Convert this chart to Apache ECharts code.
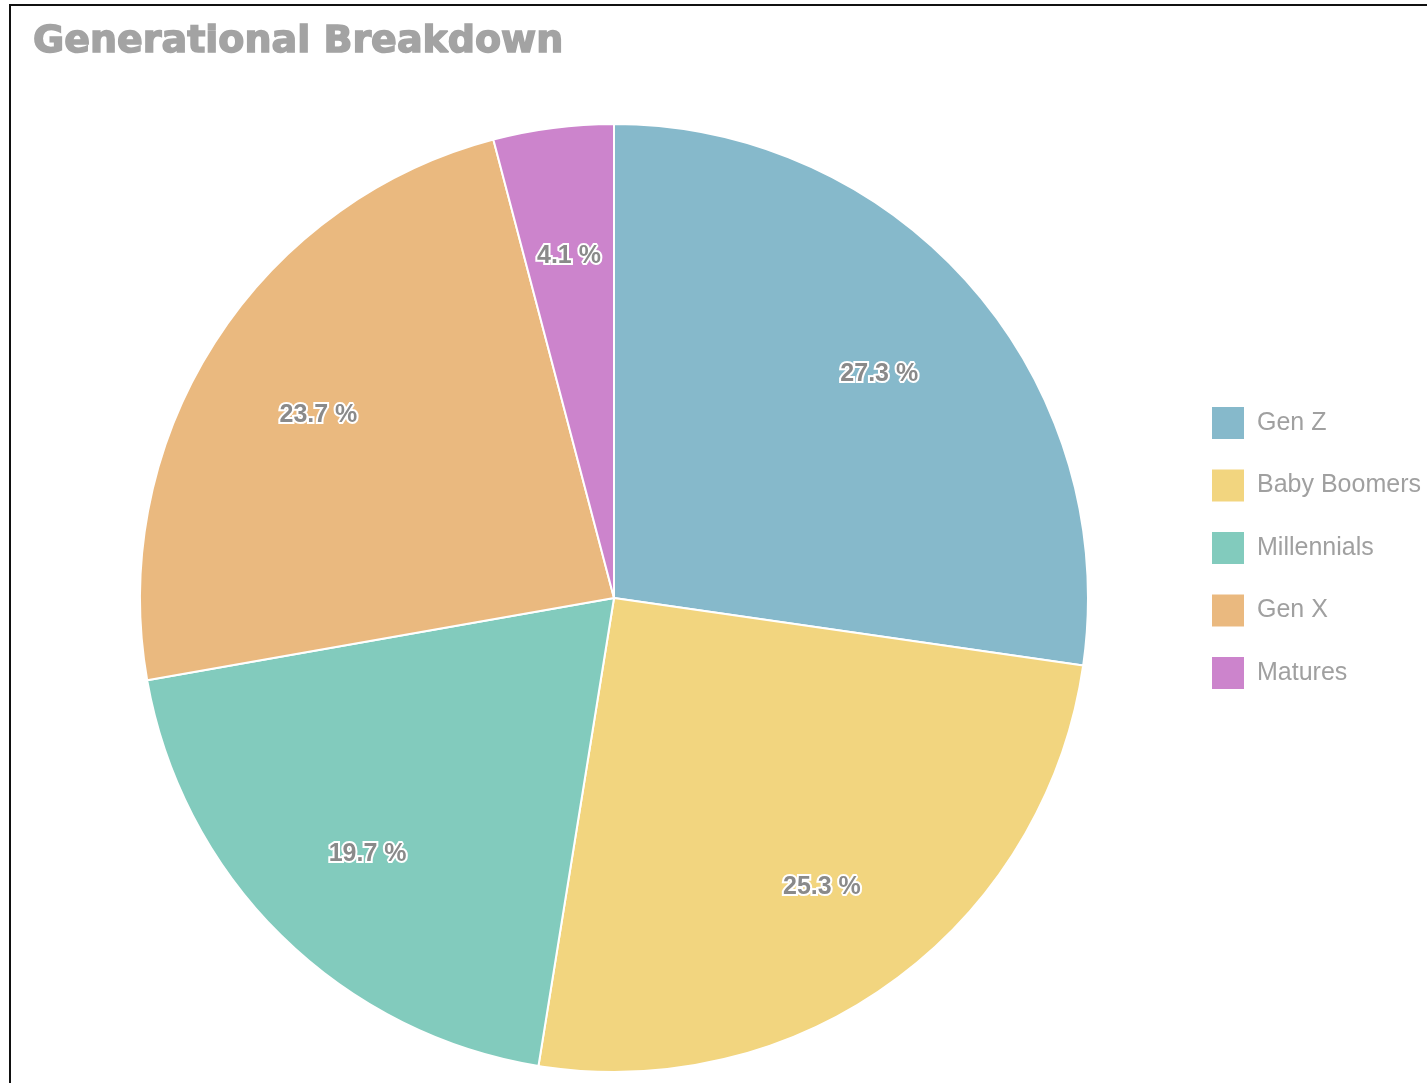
<!DOCTYPE html>
<html>
<head>
<meta charset="utf-8">
<title>Generational Breakdown</title>
<script src="https://cdn.jsdelivr.net/npm/echarts@6/dist/echarts.min.js"></script>
<style>
  html, body { margin: 0; padding: 0; background: #fff; }
  #main { width: 1427px; height: 1083px; }
  .frame {
    position: absolute; left: 9px; top: 4px; right: 0; bottom: 0;
    border-left: 2px solid #111; border-top: 2px solid #111;
    pointer-events: none;
  }
</style>
</head>
<body>
<div id="main"></div>
<div class="frame"></div>
<script>
// generations, clockwise from 12 o'clock
const generations = ['Gen Z', 'Baby Boomers', 'Millennials', 'Gen X', 'Matures']
const shares = [27.3, 25.3, 19.7, 23.7, 4.1]
const colors = ['#86b9cb', '#f2d57f', '#82cbbd', '#eab97f', '#cc84cc']

const pieData = generations.map((name, i) => ({ name: name, value: shares[i] }))

const chart = echarts.init(document.getElementById('main'))

chart.setOption({
  backgroundColor: '#fff',
  color: colors,
  animation: false,
  title: {
    text: 'Generational Breakdown',
    left: 28,
    top: 18,
    textStyle: {
      fontFamily: 'DejaVu Sans',
      fontWeight: 'bold',
      fontSize: 38,
      color: '#a3a3a3',
      // a thin border of the same grey makes it look heavier, like the original
      textBorderColor: '#a3a3a3',
      textBorderWidth: 1.5
    }
  },
  legend: {
    orient: 'vertical',
    left: 1210,
    top: 405,
    padding: 0,
    itemWidth: 34,
    itemHeight: 34,
    itemGap: 26.5,
    icon: 'rect',
    data: generations,
    textStyle: {
      fontFamily: 'Liberation Sans',
      fontSize: 25,
      color: '#a0a0a0',
      // text sits a little below the middle of the swatch in the original
      padding: [8, 0, 0, 7]
    }
  },
  series: [
    {
      // the pie itself
      type: 'pie',
      center: [614, 598],
      radius: 474,
      startAngle: 90,
      clockwise: true,
      label: { show: false },
      labelLine: { show: false },
      itemStyle: {
        borderColor: '#fff',
        borderWidth: 2
      },
      data: pieData
    },
    {
      // transparent ring only used to push the labels outward
      type: 'pie',
      center: [614, 598],
      radius: [222, 474],
      startAngle: 90,
      clockwise: true,
      silent: true,
      itemStyle: { color: 'transparent', borderWidth: 0 },
      emphasis: { disabled: true },
      labelLine: { show: false },
      label: {
        show: true,
        position: 'inside',
        formatter: '{c} %',
        offset: [0, 6],
        fontFamily: 'Liberation Sans',
        fontSize: 25,
        fontWeight: 'bold',
        color: '#8a8a8a',
        textBorderColor: '#fff',
        textBorderWidth: 4
      },
      data: pieData
    }
  ]
})
</script>
</body>
</html>
